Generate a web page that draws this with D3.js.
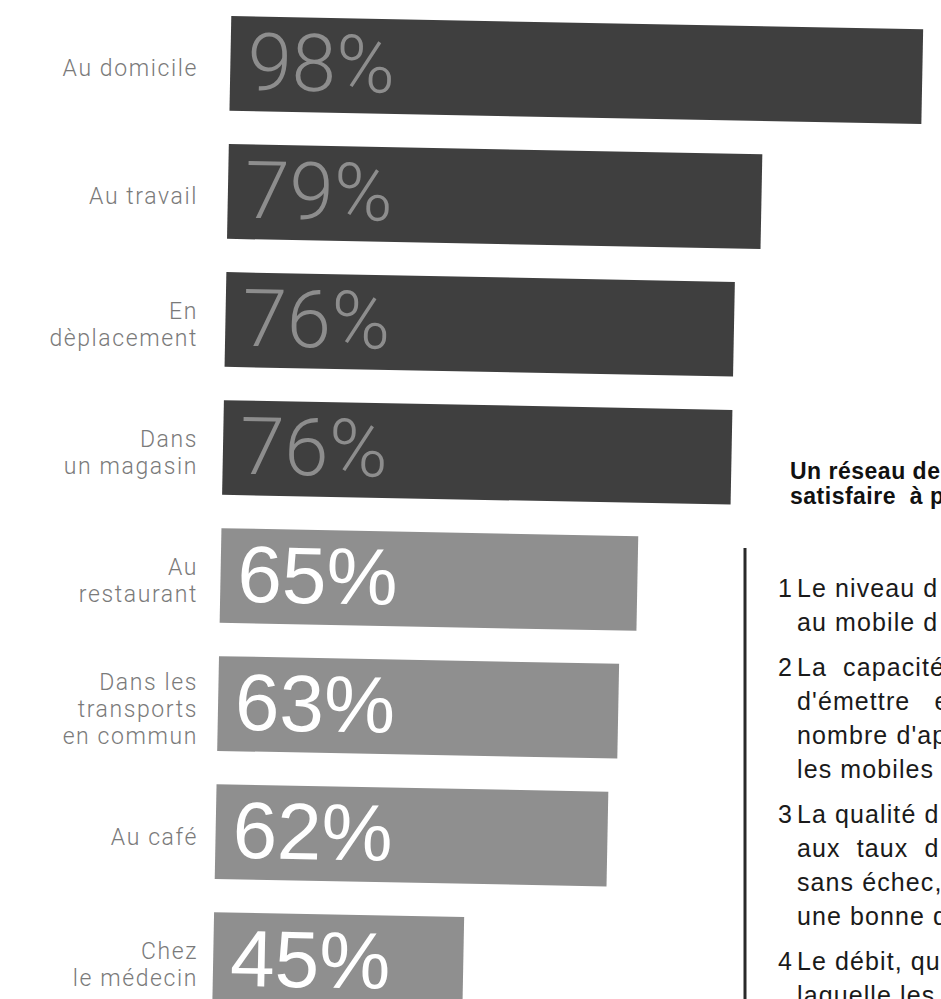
<!DOCTYPE html>
<html>
<head>
<meta charset="utf-8">
<script src="https://cdn.jsdelivr.net/npm/d3@7"></script>
<style>
  body { margin: 0; background: #fff; }
</style>
</head>
<body>
<div id="chart"></div>
<script>
/* ------------------------- Data ------------------------- */
var categories = ["Au domicile", "Au travail", "En dèplacement", "Dans un magasin",
                  "Au restaurant", "Dans les transports en commun", "Au café", "Chez le médecin"];
var categoryLines = [["Au domicile"], ["Au travail"], ["En", "dèplacement"], ["Dans", "un magasin"],
                     ["Au", "restaurant"], ["Dans les", "transports", "en commun"], ["Au café"], ["Chez", "le médecin"]];
var values = [98, 79, 76, 76, 65, 63, 62, 45];

var titleLines = ["Un réseau de", "satisfaire  à p"];
var listLines = [
    ["1", "Le niveau d"], ["", "au mobile d"],
    ["2", "La  capacité"], ["", "d'émettre   e"], ["", "nombre d'ap"], ["", "les mobiles e"],
    ["3", "La qualité d"], ["", "aux  taux  d"], ["", "sans échec, e"], ["", "une bonne q"],
    ["4", "Le débit, qu"], ["", "laquelle les"]
];

/* ------------------------- General ------------------------- */
var width = 941,
    height = 999,
    barLeft = 222,
    fontFamily = "'Liberation Sans', Arial, sans-serif",
    lightFamily = "Roboto, 'Liberation Sans', sans-serif";

var svg = d3.select("#chart")
            .append("svg")
            .attr("width", width)
            .attr("height", height);

var x = d3.scaleLinear().domain([15, 98]).range([0, 692]);
var y = d3.scaleBand().domain(categories).range([16, 1007]).paddingInner(0.26);

/* ------------------------- Bars ------------------------- */
/* the scan is a little tilted, so the bars get a small rotation */
var bars = svg.append("g")
              .attr("transform", "rotate(1.1," + barLeft + ",500)");

bars.selectAll("rect")
    .data(values)
    .enter().append("rect")
    .attr("x", barLeft)
    .attr("y", function(d, i) { return y(categories[i]); })
    .attr("width", function(d) { return x(d); })
    .attr("height", y.bandwidth())
    .attr("fill", function(d) { return d >= 70 ? "#3f3f3f" : "#8f8f8f"; });

bars.selectAll("text")
    .data(values)
    .enter().append("text")
    .attr("x", barLeft + 17)
    .attr("y", function(d, i) { return y(categories[i]) + y.bandwidth() / 2 + 26; })
    .attr("font-size", 80)
    .attr("font-family", function(d) { return d >= 70 ? lightFamily : fontFamily; })
    .attr("font-weight", function(d) { return d >= 70 ? 300 : 400; })
    .attr("fill", function(d) { return d >= 70 ? "#8d8d8d" : "#ffffff"; })
    .text(function(d) { return d + "%"; });

/* Category names, right aligned */
var lineGap = 27;
var labels = svg.append("g")
                .selectAll("text")
                .data(categoryLines)
                .enter().append("text")
                .attr("text-anchor", "end")
                .attr("font-size", 23)
                .attr("font-family", lightFamily)
                .attr("font-weight", 300)
                .attr("letter-spacing", 1.6)
                .attr("fill", "#7a7a7a")
                .attr("transform", function(d, i) {
                    var cy = y(categories[i]) + y.bandwidth() / 2 + 5;
                    return "translate(198," + (cy - (d.length - 1) * lineGap / 2 + 8) + ")";
                });

labels.selectAll("tspan")
    .data(function(d) { return d; })
    .enter().append("tspan")
    .attr("x", 0)
    .attr("y", function(d, i) { return i * lineGap; })
    .text(function(d) { return d; });

/* ------------------------- Side text ------------------------- */
svg.append("g")
    .selectAll("text")
    .data(titleLines)
    .enter().append("text")
    .attr("x", 790)
    .attr("y", function(d, i) { return 479 + i * 25; })
    .attr("font-size", 23)
    .attr("font-weight", "bold")
    .attr("font-family", fontFamily)
    .attr("letter-spacing", 0.5)
    .attr("fill", "#111")
    .style("white-space", "pre")
    .text(function(d) { return d; });

svg.append("line")
    .attr("x1", 745).attr("x2", 745)
    .attr("y1", 548).attr("y2", height)
    .attr("stroke", "#2a2a2a")
    .attr("stroke-width", 3);

/* list lines: a new item adds a small gap */
var listY = [];
var yy = 597;
listLines.forEach(function(d, i) {
    if (i > 0 && d[0] !== "") yy += 11;
    listY.push(yy);
    yy += 34;
});

var list = svg.append("g")
              .selectAll("g")
              .data(listLines)
              .enter().append("g")
              .attr("transform", function(d, i) { return "translate(0," + listY[i] + ")"; });

list.append("text")
    .attr("x", 778)
    .attr("font-size", 25)
    .attr("font-family", fontFamily)
    .attr("fill", "#1a1a1a")
    .text(function(d) { return d[0]; });

list.append("text")
    .attr("x", 797)
    .attr("font-size", 25)
    .attr("font-family", fontFamily)
    .attr("letter-spacing", 1.1)
    .attr("fill", "#1a1a1a")
    .style("white-space", "pre")
    .text(function(d) { return d[1]; });
</script>
</body>
</html>
